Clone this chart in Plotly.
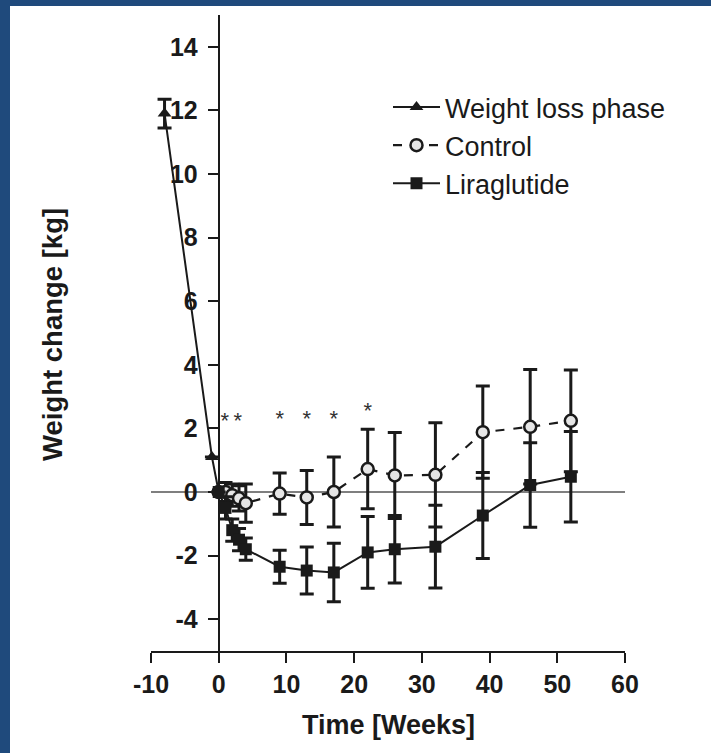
import plotly.graph_objects as go

# ---- data ----
wl_x = [-8, -1, 0]
wl_y = [11.9, 1.1, 0.0]
wl_err = [0.45, 0, 0]

ctrl_x = [0, 1, 2, 3, 4, 9, 13, 17, 22, 26, 32, 39, 46, 52]
ctrl_y = [0.0, 0.0, -0.1, -0.2, -0.35, -0.05, -0.17, 0.0, 0.72, 0.52, 0.54, 1.88, 2.05, 2.24]
ctrl_err = [0, 0.3, 0.35, 0.4, 0.6, 0.65, 0.85, 1.1, 1.25, 1.35, 1.64, 1.45, 1.8, 1.6]

lira_x = [0, 1, 2, 3, 4, 9, 13, 17, 22, 26, 32, 39, 46, 52]
lira_y = [0.0, -0.5, -1.2, -1.5, -1.8, -2.35, -2.47, -2.53, -1.9, -1.8, -1.72, -0.74, 0.22, 0.48]
lira_err = [0, 0.35, 0.35, 0.35, 0.35, 0.52, 0.74, 0.92, 1.13, 1.06, 1.3, 1.35, 1.33, 1.42]

star_x = [0.9, 2.8, 9, 13, 17, 22]
star_y = [2.2, 2.2, 2.25, 2.25, 2.25, 2.5]

x_ticks = [-10, 0, 10, 20, 30, 40, 50, 60]
x_labels = ["-10", "0", "10", "20", "30", "40", "50", "60"]
y_ticks = [-4, -2, 0, 2, 4, 6, 8, 10, 12, 14]
y_labels = ["-4", "-2", "0", "2", "4", "6", "8", "10", "12", "14"]

FONT = "Liberation Sans, Arial, sans-serif"
INK = "#1a1a1a"

W, H = 711, 753
ML, MR, MT, MB = 151, 86, 15, 102
PW, PH = W - ML - MR, H - MT - MB

def px_to_paper_x(px):
    return (px - ML) / PW

def px_to_paper_y(py):
    return (H - MB - py) / PH

fig = go.Figure()

err_style = dict(type="data", thickness=3, width=7, color=INK)

fig.add_trace(go.Scatter(
    x=wl_x, y=wl_y, name="Weight loss phase", mode="lines+markers",
    line=dict(color=INK, width=2),
    marker=dict(symbol="triangle-up", size=12, color=INK),
    error_y=dict(array=wl_err, **err_style),
    legendgroup="a",
))
fig.add_trace(go.Scatter(
    x=ctrl_x, y=ctrl_y, name="Control", mode="lines+markers",
    line=dict(color=INK, width=2.2, dash="dash"),
    marker=dict(symbol="circle", size=12, color="rgba(230,230,230,1)",
                line=dict(color=INK, width=2.5)),
    error_y=dict(array=ctrl_err, **err_style),
    legendgroup="b",
))
fig.add_trace(go.Scatter(
    x=lira_x, y=lira_y, name="Liraglutide", mode="lines+markers",
    line=dict(color=INK, width=2),
    marker=dict(symbol="square", size=12, color=INK),
    error_y=dict(array=lira_err, **err_style),
    legendgroup="c",
))
fig.add_trace(go.Scatter(
    x=star_x, y=star_y, mode="text", text=["*"] * len(star_x),
    textfont=dict(family=FONT, size=22, color="#333"),
    showlegend=False, hoverinfo="skip",
))

shapes = [
    dict(type="rect", xref="paper", yref="paper",
         x0=px_to_paper_x(10), x1=px_to_paper_x(W + 5),
         y0=px_to_paper_y(H + 5), y1=px_to_paper_y(6),
         fillcolor="white", line=dict(width=0), layer="below"),
    dict(type="line", xref="x", yref="y", x0=-10, x1=60, y0=0, y1=0,
         line=dict(color="#555", width=1.5), layer="below"),
]

annotations = [
    dict(text="<b>Time [Weeks]</b>", xref="paper", yref="paper",
         x=0.5, y=px_to_paper_y(725), showarrow=False,
         font=dict(family=FONT, size=27, color=INK), xanchor="center", yanchor="middle"),
    dict(text="<b>Weight change [kg]</b>", xref="paper", yref="paper",
         x=px_to_paper_x(52), y=px_to_paper_y(335), showarrow=False, textangle=-90,
         font=dict(family=FONT, size=27.5, color=INK), xanchor="center", yanchor="middle"),
]

fig.update_layout(
    width=W, height=H,
    margin=dict(l=ML, r=MR, t=MT, b=MB),
    paper_bgcolor="#1f4a7c",
    plot_bgcolor="rgba(0,0,0,0)",
    showlegend=True,
    legend=dict(x=px_to_paper_x(388), y=px_to_paper_y(83), xanchor="left", yanchor="top",
                bgcolor="rgba(0,0,0,0)", font=dict(family=FONT, size=27, color=INK),
                tracegroupgap=0, itemwidth=47),
    shapes=shapes,
    annotations=annotations,
    xaxis=dict(range=[-10, 60], tickvals=x_ticks, ticktext=x_labels, showgrid=False, zeroline=False,
               showline=True, linecolor=INK, linewidth=2, ticks="outside",
               ticklen=10, tickwidth=2, tickcolor=INK,
               tickfont=dict(family=FONT, size=25, color=INK, weight="bold")),
    yaxis=dict(range=[-5, 15], tickvals=y_ticks, ticktext=y_labels, showgrid=False, zeroline=False,
               showline=True, linecolor=INK, linewidth=2, ticks="outside",
               ticklen=10, tickwidth=2, tickcolor=INK, anchor="free", position=1 / 7,
               ticklabelstandoff=5,
               tickfont=dict(family=FONT, size=25, color=INK, weight="bold")),
)

fig.write_html("out.html")
